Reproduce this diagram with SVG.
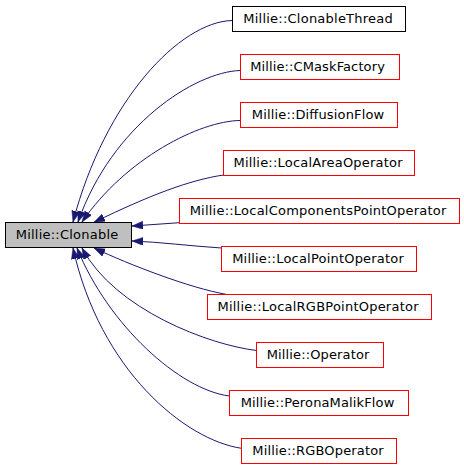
<svg xmlns="http://www.w3.org/2000/svg" width="464" height="467" viewBox="0 0 464 467">
<style>
  .box { fill: #ffffff; stroke: #ff0000; stroke-width: 1; }
  .box.doc { stroke: #000000; }
  .box.root { fill: #bfbfbf; stroke: #000000; }
  text { font-family: "DejaVu Sans", "Liberation Sans", sans-serif; font-size: 13px; fill: #000000; text-anchor: middle; }
  .edge { fill: none; stroke: #191970; stroke-width: 1; marker-end: url(#arr); }
</style>
<defs>
  <marker id="arr" markerUnits="userSpaceOnUse" markerWidth="12" markerHeight="9" refX="11" refY="4" orient="auto">
    <path d="M0,0 L11,4 L0,8 Z" fill="#191970" stroke="#191970" stroke-width="0.5"/>
  </marker>
</defs>
<rect width="464" height="467" fill="#ffffff"/>
<g id="connectors">
  <path class="edge" d="M232,20.5 C180,22 105,100 73,222"/>
  <path class="edge" d="M240,70.5 C195,72 112,125 78,222"/>
  <path class="edge" d="M240,120.5 C200,121 126,158 82,222"/>
  <path class="edge" d="M223.5,175 C190,180 150,195 94,222.3"/>
  <path class="edge" d="M179.5,222.7 L132,226"/>
  <path class="edge" d="M221.5,248 C190,246 160,242 132,241"/>
  <path class="edge" d="M226,294.3 C190,288 130,265 94,248"/>
  <path class="edge" d="M256.5,350.5 C210,345 115,310 82,248"/>
  <path class="edge" d="M229.5,396 C180,390 108,325 77,248"/>
  <path class="edge" d="M241.5,448.3 C185,440 100,370 73,248"/>
</g>
<g id="Clonable">
  <rect class="box root" x="5.5" y="222.5" width="126" height="25"/>
  <text x="67" y="239" textLength="102.6" lengthAdjust="spacing">Millie::Clonable</text>
</g>
<g id="ClonableThread">
  <rect class="box doc" x="232.5" y="6.5" width="173" height="25"/>
  <text x="318" y="23" textLength="149.4" lengthAdjust="spacing">Millie::ClonableThread</text>
</g>
<g id="CMaskFactory">
  <rect class="box" x="240.5" y="54.5" width="159" height="25"/>
  <text x="317.5" y="71" textLength="134.7" lengthAdjust="spacing">Millie::CMaskFactory</text>
</g>
<g id="DiffusionFlow">
  <rect class="box" x="240.5" y="102.5" width="157" height="25"/>
  <text x="318" y="119" textLength="132.3" lengthAdjust="spacing">Millie::DiffusionFlow</text>
</g>
<g id="LocalAreaOperator">
  <rect class="box" x="223.5" y="150.5" width="191" height="25"/>
  <text x="318" y="167" textLength="169" lengthAdjust="spacing">Millie::LocalAreaOperator</text>
</g>
<g id="LocalComponentsPointOperator">
  <rect class="box" x="179.5" y="198.5" width="280" height="25"/>
  <text x="318" y="215" textLength="256.7" lengthAdjust="spacing">Millie::LocalComponentsPointOperator</text>
</g>
<g id="LocalPointOperator">
  <rect class="box" x="221.5" y="246.5" width="195" height="25"/>
  <text x="318" y="263" textLength="171.7" lengthAdjust="spacing">Millie::LocalPointOperator</text>
</g>
<g id="LocalRGBPointOperator">
  <rect class="box" x="207.5" y="294.5" width="224" height="25"/>
  <text x="318" y="311" textLength="201" lengthAdjust="spacing">Millie::LocalRGBPointOperator</text>
</g>
<g id="Operator">
  <rect class="box" x="256.5" y="342.5" width="127" height="25"/>
  <text x="318" y="359" textLength="102.7" lengthAdjust="spacing">Millie::Operator</text>
</g>
<g id="PeronaMalikFlow">
  <rect class="box" x="229.5" y="390.5" width="179" height="25"/>
  <text x="317.5" y="407" textLength="153.7" lengthAdjust="spacing">Millie::PeronaMalikFlow</text>
</g>
<g id="RGBOperator">
  <rect class="box" x="241.5" y="438.5" width="155" height="25"/>
  <text x="318" y="455" textLength="131.4" lengthAdjust="spacing">Millie::RGBOperator</text>
</g>
</svg>
